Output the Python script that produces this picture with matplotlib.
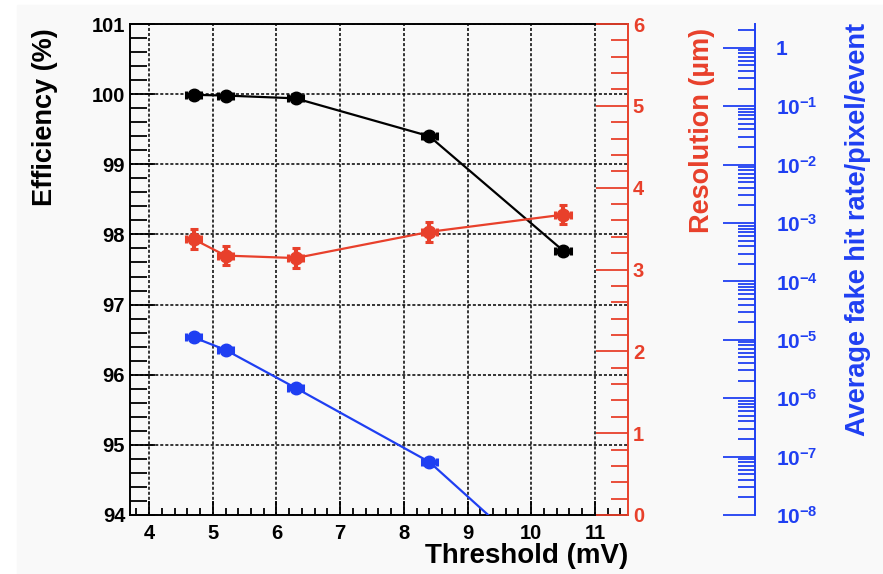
import numpy as np
import matplotlib
matplotlib.use('Agg')
import matplotlib.pyplot as plt
from matplotlib.patches import Rectangle
from matplotlib.ticker import MultipleLocator, FixedLocator, FuncFormatter, NullFormatter

plt.rcParams['font.family'] = ['Liberation Sans', 'DejaVu Sans']
plt.rcParams['font.weight'] = 'bold'

# data
threshold = [4.7, 5.2, 6.3, 8.4, 10.5]
threshold_err = [0.12, 0.12, 0.12, 0.12, 0.12]
efficiency = [99.99, 99.98, 99.94, 99.40, 97.77]
efficiency_err = [0.02, 0.02, 0.03, 0.03, 0.04]
resolution = [3.37, 3.17, 3.14, 3.46, 3.67]
resolution_err = [0.12, 0.12, 0.12, 0.12, 0.12]
fake_rate = [1.1e-5, 6.7e-6, 1.5e-6, 8.1e-8, 7e-10]
fake_decades = [-8, -7, -6, -5, -4, -3, -2, -1, 0]

RED = '#e8402b'
BLUE = '#1f3ff2'
W, H = 883, 574

fig = plt.figure(figsize=(W / 100, H / 100), dpi=100)
fig.patch.set_facecolor('white')
fig.add_artist(Rectangle((17 / W, 0), 1, 1 - 5 / H, transform=fig.transFigure,
                         color='#f9f9f9', zorder=-5))

ax = fig.add_axes([130 / W, 1 - 515 / H, (628 - 130) / W, (515 - 24) / H])
ax.set_facecolor('none')
ax2 = ax.twinx()
ax3 = ax.twinx()
for a in (ax2, ax3):
    a.set_facecolor('none')

err_style = dict(fmt='o-', ms=9, lw=1.6, elinewidth=3, capsize=3, capthick=2.2, zorder=5)

# efficiency (left axis)
ax.set_xlim(3.7, 11.52)
ax.set_ylim(94, 101)
ax.xaxis.set_major_locator(MultipleLocator(1))
ax.xaxis.set_minor_locator(MultipleLocator(0.2))
ax.yaxis.set_major_locator(MultipleLocator(1))
ax.yaxis.set_minor_locator(MultipleLocator(0.2))
ax.tick_params(axis='both', which='both', direction='in', labelsize=14.5, width=1.3)
ax.tick_params(axis='x', which='major', length=10, pad=6.5)
ax.tick_params(axis='x', which='minor', length=5)
ax.tick_params(axis='y', which='major', length=18, pad=3.5)
ax.tick_params(axis='y', which='minor', length=12)
ax.grid(True, which='major', color='black', linestyle=(0, (2, 1.3)), linewidth=1.1)
for s in ax.spines.values():
    s.set_linewidth(1.4)
ax.spines['right'].set_visible(False)
ax.errorbar(threshold, efficiency, xerr=threshold_err, yerr=efficiency_err,
            color='black', **err_style)

# resolution (red right axis)
ax2.set_ylim(0, 6)
ax2.yaxis.set_major_locator(MultipleLocator(1))
ax2.yaxis.set_minor_locator(MultipleLocator(0.2))
ax2.tick_params(axis='y', which='both', direction='in', colors=RED, labelsize=14.5,
                width=1.3, pad=3.5)
ax2.tick_params(axis='y', which='major', length=23)
ax2.tick_params(axis='y', which='minor', length=12)
for k, s in ax2.spines.items():
    s.set_visible(k == 'right')
ax2.spines['right'].set_color(RED)
ax2.spines['right'].set_linewidth(1.4)
ax2.errorbar(threshold, resolution, xerr=threshold_err, yerr=resolution_err,
             color=RED, **err_style)

# fake hit rate (blue log axis)
ax3.set_yscale('log')
ax3.set_ylim(1e-8, 2.55)
ax3.spines['right'].set_position(('outward', 127 * 0.72))
for k, s in ax3.spines.items():
    s.set_visible(k == 'right')
ax3.spines['right'].set_color(BLUE)
ax3.spines['right'].set_linewidth(1.4)
majors = [10.0 ** e for e in fake_decades]
minors = [m * 10.0 ** e for e in fake_decades for m in range(2, 10) if m * 10.0 ** e <= 2.55]
ax3.yaxis.set_major_locator(FixedLocator(majors))
ax3.yaxis.set_minor_locator(FixedLocator(minors))
ax3.yaxis.set_minor_formatter(NullFormatter())


def log_label(v, pos):
    e = int(round(np.log10(v)))
    return '1' if e == 0 else r'$\mathregular{10^{%d}}$' % e


ax3.yaxis.set_major_formatter(FuncFormatter(log_label))
ax3.tick_params(axis='y', which='both', direction='in', colors=BLUE, labelsize=15,
                width=1.3, pad=15)
ax3.tick_params(axis='y', which='major', length=23)
ax3.tick_params(axis='y', which='minor', length=12)
ax3.errorbar(threshold, fake_rate, xerr=threshold_err, color=BLUE, **err_style)

# axis titles
fig.text(45 / W, 1 - 28 / H, 'Efficiency (%)', rotation=90, ha='center', va='top',
         fontsize=19.5, weight='bold')
fig.text(702 / W, 1 - 28 / H, 'Resolution (µm)', rotation=90, ha='center', va='top',
         fontsize=19.5, weight='bold', color=RED)
fig.text(858 / W, 1 - 23 / H, 'Average fake hit rate/pixel/event', rotation=90,
         ha='center', va='top', fontsize=19.5, weight='bold', color=BLUE)
fig.text(628 / W, 1 - 543 / H, 'Threshold (mV)', ha='right', va='top',
         fontsize=20, weight='bold')

fig.savefig('out.png', dpi=100, facecolor='white')
